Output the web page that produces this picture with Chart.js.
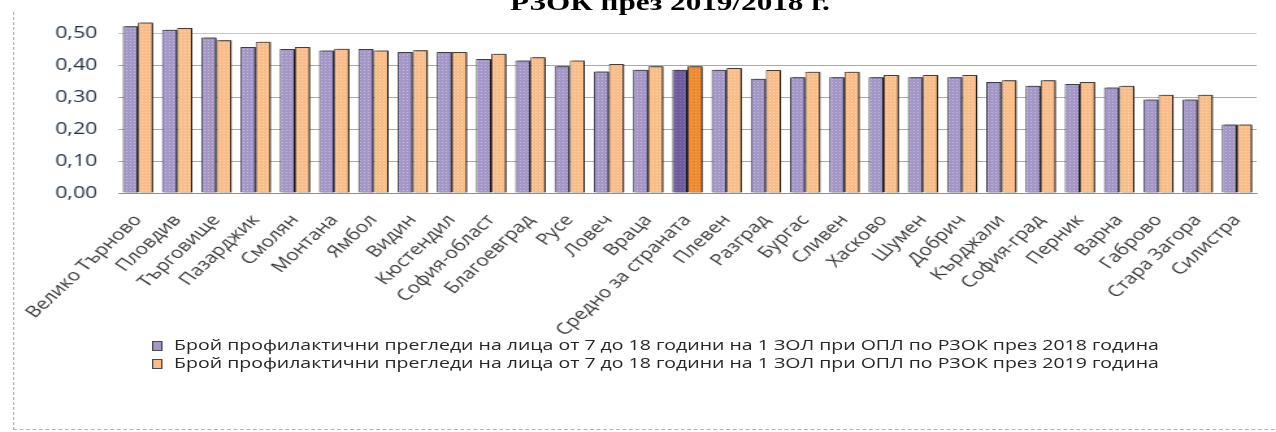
<!DOCTYPE html>
<html>
<head>
<meta charset="utf-8">
<script src="https://cdn.jsdelivr.net/npm/chart.js@4.4.1/dist/chart.umd.min.js"></script>
<style>
  html, body { margin: 0; padding: 0; background: #ffffff; overflow: hidden; width: 1276px; height: 432px; }
  #stage { position: absolute; left: 0; top: 0; width: 982px; height: 432px; transform: scaleX(1.2994); transform-origin: 0 0; }
  #frame { position: absolute; left: 10px; top: 12px; width: 975px; height: 417px; border-left: 1px dashed #b4b4b4; border-bottom: 1px dashed #b4b4b4; }
  #title { position: absolute; left: 0; top: -10px; width: 1031px; text-align: center; font: bold 24px/24px "Liberation Serif", "Times New Roman", serif; color: #000; white-space: nowrap; }
  #chart { position: absolute; left: 0; top: 0; }
  #legend { position: absolute; left: 117px; top: 335px; font: 15px/18px "Open Sans", sans-serif; color: #262626; white-space: nowrap; }
  .item { height: 18px; }
  .mk { display: inline-block; width: 6px; height: 8px; border: 1px solid #4a4a4a; margin-right: 9px; vertical-align: -1px; }
</style>
</head>
<body>
<div id="stage">
  <div id="frame"></div>
  <canvas id="chart" width="982" height="432"></canvas>
  <div id="title">РЗОК през 2019/2018 г.</div>
  <div id="legend"></div>
</div>
<script>
const categories = ['Велико Търново','Пловдив','Търговище','Пазарджик','Смолян','Монтана','Ямбол','Видин','Кюстендил','София-област','Благоевград','Русе','Ловеч','Враца','Средно за страната','Плевен','Разград','Бургас','Сливен','Хасково','Шумен','Добрич','Кърджали','София-град','Перник','Варна','Габрово','Стара Загора','Силистра'];
const values2018 = [0.521,0.510,0.486,0.456,0.450,0.445,0.450,0.441,0.441,0.419,0.414,0.396,0.380,0.385,0.385,0.385,0.357,0.362,0.362,0.362,0.362,0.362,0.347,0.335,0.341,0.330,0.292,0.292,0.214];
const values2019 = [0.533,0.516,0.477,0.473,0.456,0.451,0.445,0.446,0.441,0.435,0.424,0.414,0.403,0.396,0.396,0.391,0.384,0.379,0.379,0.369,0.369,0.369,0.352,0.352,0.347,0.335,0.307,0.307,0.214];
const seriesLabels = ['Брой профилактични прегледи на лица от 7 до 18 години на 1 ЗОЛ при ОПЛ по РЗОК през 2018 година','Брой профилактични прегледи на лица от 7 до 18 години на 1 ЗОЛ при ОПЛ по РЗОК през 2019 година'];
const averageCategory = 'Средно за страната';
const yMin = 0, yMax = 0.6, yStep = 0.1;

const canvas = document.getElementById('chart');
const ctx = canvas.getContext('2d');

function makePattern(base, dot) {
  const c = document.createElement('canvas');
  c.width = 3; c.height = 3;
  const x = c.getContext('2d');
  x.fillStyle = base; x.fillRect(0, 0, 3, 3);
  x.fillStyle = dot; x.fillRect(1, 1, 1, 1);
  return ctx.createPattern(c, 'repeat');
}
const purplePat = makePattern('#a596c8', '#c3bddb');
const orangePat = makePattern('#f9bd89', '#fcd6b2');
const purpleAvg = makePattern('#6f5a9e', '#8a7ab3');
const orangeAvg = makePattern('#f18a2f', '#f6a760');

const shadowPlugin = {
  id: 'barShadow',
  beforeDatasetDraw(chart) {
    const c = chart.ctx;
    c.save();
    c.shadowColor = 'rgba(0,0,0,0.8)';
    c.shadowOffsetX = 2;
    c.shadowOffsetY = 0;
    c.shadowBlur = 0;
  },
  afterDatasetDraw(chart) { chart.ctx.restore(); }
};

new Chart(ctx, {
  type: 'bar',
  data: {
    labels: categories,
    datasets: [
      { label: seriesLabels[0], data: values2018,
        backgroundColor: c => categories[c.dataIndex] === averageCategory ? purpleAvg : purplePat,
        borderColor: '#3c3c46', borderWidth: 1, barPercentage: 1, categoryPercentage: 0.77 },
      { label: seriesLabels[1], data: values2019,
        backgroundColor: c => categories[c.dataIndex] === averageCategory ? orangeAvg : orangePat,
        borderColor: '#4a3c32', borderWidth: 1, barPercentage: 1, categoryPercentage: 0.77 }
    ]
  },
  options: {
    responsive: false,
    animation: false,
    events: [],
    layout: { padding: { top: 1, right: 15, bottom: 0, left: 0 } },
    plugins: { legend: { display: false }, title: { display: false }, tooltip: { enabled: false } },
    scales: {
      x: {
        grid: { display: false, drawTicks: false },
        border: { display: true, color: '#8f8f8f', width: 1 },
        ticks: { autoSkip: false, minRotation: 50, maxRotation: 50, padding: 18,
                 color: '#3a3a3a', font: { family: '"Open Sans", sans-serif', size: 16 } },
        afterFit: s => { s.height = 239; s.paddingLeft = 0; s.paddingRight = 0; }
      },
      y: {
        min: yMin, max: yMax,
        ticks: { stepSize: yStep, padding: 16, color: '#233449',
                 font: { family: '"Open Sans", sans-serif', size: 16.5 },
                 callback: v => v > 0.55 ? null : v.toFixed(2).replace('.', ',') },
        grid: { drawTicks: false, lineWidth: 1,
                color: c => c.tick.value > 0.55 ? 'rgba(0,0,0,0)' : (Math.abs(c.tick.value - 0.5) < 1e-6 ? '#c6c6c6' : '#a9a9a9') },
        border: { display: false },
        afterFit: s => { s.width = 91; s.paddingTop = 0; s.paddingBottom = 0; }
      }
    }
  },
  plugins: [shadowPlugin]
});

const legend = document.getElementById('legend');
const markerColors = ['#a596c8', '#f9bd89'];
seriesLabels.forEach((t, i) => {
  const d = document.createElement('div');
  d.className = 'item';
  const m = document.createElement('span');
  m.className = 'mk';
  m.style.background = markerColors[i];
  d.appendChild(m);
  d.appendChild(document.createTextNode(t));
  legend.appendChild(d);
});
</script>
</body>
</html>
